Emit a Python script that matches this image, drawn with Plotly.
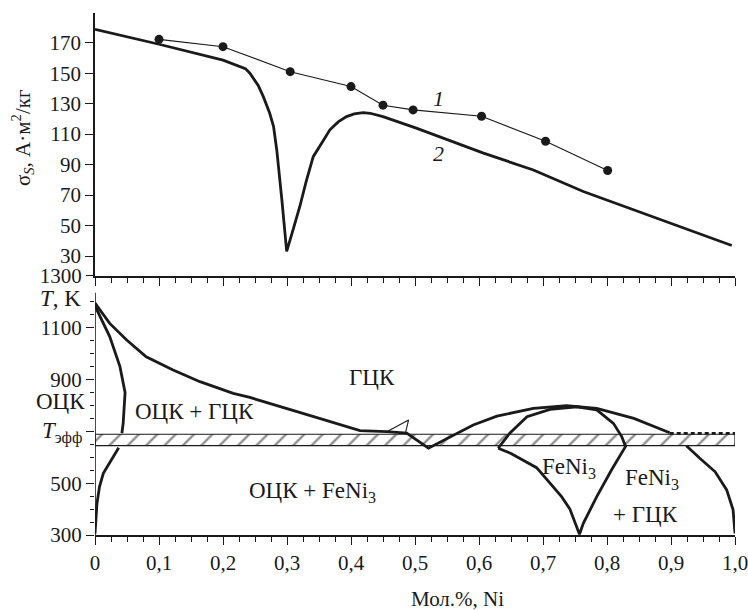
import plotly.graph_objects as go

# ---- top panel data: sigma_S (A*m^2/kg) vs mole fraction Ni ----
c1_x = [0.10, 0.20, 0.305, 0.40, 0.45, 0.497, 0.604, 0.704, 0.801]
c1_y = [172.2, 167.4, 151.0, 141.2, 129.0, 125.9, 121.7, 105.3, 86.1]

c2_x = [0.0, 0.10, 0.20, 0.224, 0.235, 0.242, 0.255, 0.263, 0.273, 0.279, 0.284, 0.292, 0.2995,
        0.310, 0.320, 0.330, 0.341, 0.357, 0.367, 0.380, 0.393, 0.405, 0.419, 0.430, 0.450,
        0.502, 0.607, 0.685, 0.763, 0.995]
c2_y = [178.8, 169.0, 158.6, 155.0, 153.0, 150.0, 142.0, 134.6, 123.7, 114.9, 99.6, 66.9, 33.0,
        48.0, 62.5, 79.0, 95.2, 106.0, 112.8, 118.0, 121.5, 123.3, 124.1, 123.7, 121.5,
        113.9, 97.5, 86.5, 72.3, 36.9]

# ---- bottom panel data: phase diagram T (K) vs mole fraction Ni ----
upper_x = [0.0, 0.023, 0.0495, 0.08, 0.122, 0.164, 0.216, 0.242, 0.33, 0.414, 0.456, 0.487,
           0.521, 0.555, 0.591, 0.628, 0.685, 0.737, 0.784, 0.842, 0.898]
upper_T = [1195, 1117, 1053, 988, 937, 892, 847, 831, 766, 703, 699, 693,
           635, 680, 725, 759, 789, 799, 789, 750, 695]

dash_x = [0.898, 1.0]
dash_T = [692, 692]

bcc_up_x = [0.0, 0.003, 0.023, 0.039, 0.047, 0.046, 0.044, 0.042]
bcc_up_T = [1195, 1169, 1066, 950, 850, 790, 731, 693]

bcc_low_x = [0.037, 0.026, 0.013, 0.007, 0.003, 0.0]
bcc_low_T = [637, 590, 538, 486, 420, 305]

feni_x = [0.630, 0.648, 0.675, 0.711, 0.753, 0.784, 0.810, 0.823, 0.829,
          0.807, 0.784, 0.763, 0.757, 0.742, 0.729, 0.690, 0.650, 0.630]
feni_T = [635, 693, 757, 785, 795, 783, 731, 680, 642,
          551, 448, 345, 303, 400, 448, 560, 615, 635]

right_x = [0.924, 0.945, 0.969, 0.987, 0.997, 1.0]
right_T = [645, 596, 544, 474, 397, 306]

tri_x = [0.453, 0.490, 0.485]
tri_T = [695, 744, 693]

band_x = [0.0, 1.0, 1.0, 0.0, 0.0]
band_T = [645, 645, 689, 689, 645]

x_tickvals = [0, 0.1, 0.2, 0.3, 0.4, 0.5, 0.6, 0.7, 0.8, 0.9, 1.0]
x_ticktext = ["0", "0,1", "0,2", "0,3", "0,4", "0,5", "0,6", "0,7", "0,8", "0,9", "1,0"]
s_tickvals = [30, 50, 70, 90, 110, 130, 150, 170]
T_tickvals = [300, 500, 700, 900, 1100, 1300]
T_ticktext = ["300", "500", "", "900", "1100", "1300"]
T_minor = [350, 400, 450, 550, 600, 650, 750, 800, 850, 950, 1000, 1050, 1150, 1200]

INK = "#1a1a1a"
FONT = "Liberation Serif, Times New Roman, serif"

fig = go.Figure()

# hatched band
fig.add_trace(go.Scatter(x=band_x, y=band_T, xaxis="x2", yaxis="y2", mode="lines",
                         fill="toself", fillcolor="white",
                         fillpattern=dict(shape="/", fgcolor=INK, bgcolor="white", size=13, solidity=0.18),
                         line=dict(color=INK, width=1.2), hoverinfo="skip", showlegend=False))

thick = dict(color=INK, width=2.8)
for xs, ts in [(upper_x, upper_T), (bcc_up_x, bcc_up_T), (bcc_low_x, bcc_low_T),
               (feni_x, feni_T), (right_x, right_T)]:
    fig.add_trace(go.Scatter(x=xs, y=ts, xaxis="x2", yaxis="y2", mode="lines",
                             line=thick, cliponaxis=False, showlegend=False))
fig.add_trace(go.Scatter(x=dash_x, y=dash_T, xaxis="x2", yaxis="y2", mode="lines",
                         line=dict(color=INK, width=2.8, dash="4px,3px"), showlegend=False))
fig.add_trace(go.Scatter(x=tri_x, y=tri_T, xaxis="x2", yaxis="y2", mode="lines",
                         line=dict(color=INK, width=1.1), showlegend=False))

# top panel curves
fig.add_trace(go.Scatter(x=c2_x, y=c2_y, mode="lines", line=thick, cliponaxis=False, showlegend=False))
fig.add_trace(go.Scatter(x=c1_x, y=c1_y, mode="lines+markers",
                         line=dict(color=INK, width=1.1),
                         marker=dict(color=INK, size=9), showlegend=False))

split = 0.4962
axis_common = dict(showgrid=False, zeroline=False, linecolor=INK, linewidth=1.6,
                   tickcolor=INK, tickwidth=1.3, automargin=False, ticklabeloverflow="allow",
                   tickfont=dict(family=FONT, size=21, color=INK))

fig.update_layout(
    width=748, height=610,
    margin=dict(l=95, r=13, t=13, b=75, autoexpand=False),
    paper_bgcolor="white", plot_bgcolor="white",
    showlegend=False,
    font=dict(family=FONT, color=INK),
    xaxis=dict(domain=[0, 1], anchor="y", range=[0, 1], showline=True, ticks="outside",
               ticklen=8, tickmode="array", tickvals=x_tickvals, showticklabels=False,
               minor=dict(dtick=0.025, tick0=0, ticks="outside", ticklen=5, tickcolor=INK, tickwidth=1.2),
               **axis_common),
    yaxis=dict(domain=[split, 1], anchor="x", range=[16.9, 189.5], showline=True,
               ticks="outside", ticklen=8, tickmode="array", tickvals=s_tickvals, **axis_common),
    xaxis2=dict(domain=[0, 1], anchor="y2", range=[0, 1], showline=True, ticks="outside",
                ticklen=8, tickmode="array", tickvals=x_tickvals, ticktext=x_ticktext,
                minor=dict(dtick=0.025, tick0=0, ticks="outside", ticklen=5, tickcolor=INK, tickwidth=1.2),
                **axis_common),
    yaxis2=dict(domain=[0, split], anchor="x2", range=[300, 1300], showline=False,
                ticks="outside", ticklen=8, tickmode="array", tickvals=T_tickvals, ticktext=T_ticktext,
                minor=dict(tickmode="array", tickvals=T_minor, ticks="outside", ticklen=4,
                           tickcolor=INK, tickwidth=1.2),
                **axis_common),
)

fig.add_shape(type="line", xref="x2", yref="y2", x0=0, x1=0, y0=300, y1=1235,
              line=dict(color=INK, width=1.6))

ann = []
def A(text, x, y, xref="x2", yref="y2", size=23, xanchor="center", **kw):
    ann.append(dict(text=text, x=x, y=y, xref=xref, yref=yref, showarrow=False,
                    xanchor=xanchor, yanchor="middle",
                    font=dict(family=FONT, size=size, color=INK), **kw))

A("<i>1</i>", 0.536, 133.5, xref="x", yref="y", size=22)
A("<i>2</i>", 0.536, 97.5, xref="x", yref="y", size=22)
A("ГЦК", 0.433, 910)
A("ОЦК + ГЦК", 0.155, 775)
A("ОЦК + FeNi<sub>3</sub>", 0.34, 465)
A("FeNi<sub>3</sub>", 0.74, 560)
A("FeNi<sub>3</sub>", 0.87, 515)
A("+ ГЦК", 0.86, 380)
A("ОЦК", -0.013, 815, xref="paper", xanchor="right")
A("<i>T</i><sub>эфф</sub>", -0.017, 694, xref="paper", xanchor="right")
A("<i>T</i>, K", -0.019, 1215, xref="paper", xanchor="right")
A("Мол.%, Ni", 0.567, -0.122, xref="paper", yref="paper", size=21)
A("σ<sub><i>S</i></sub>, А·м<sup>2</sup>/кг", -0.114, 0.7605, xref="paper", yref="paper",
  size=21, textangle=-90)
fig.update_layout(annotations=ann)

# remove the default 8px page margin so the figure sits exactly in the window
fig.write_html("out.html", config={"displayModeBar": False},
               post_script="document.body.style.margin='0';document.body.style.overflow='hidden';")
